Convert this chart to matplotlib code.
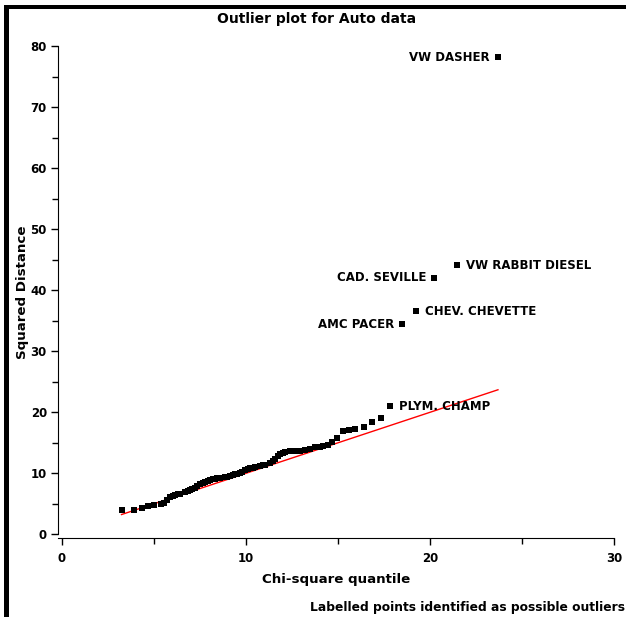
import matplotlib
matplotlib.use("Agg")
import matplotlib.pyplot as plt
from matplotlib.patches import Rectangle
import numpy as np

# chi-square quantiles and squared distances
quantile = [3.25, 3.92, 4.34, 4.70, 5.02, 5.38, 5.55, 5.72, 5.88, 6.02,
            6.15, 6.30, 6.42, 6.70, 6.84, 6.97, 7.10, 7.24, 7.37, 7.50,
            7.65, 7.80, 7.93, 8.06, 8.20, 8.33, 8.46, 8.60, 8.87, 9.00,
            9.15, 9.28, 9.42, 9.55, 9.69, 9.82, 9.96, 10.10, 10.23, 10.37,
            10.50, 10.78, 10.92, 11.05, 11.32, 11.46, 11.60, 11.74, 11.87, 12.00,
            12.14, 12.40, 12.68, 12.96, 13.23, 13.50, 13.77, 14.04, 14.20, 14.45,
            14.70, 14.95, 15.30, 15.60, 15.95, 16.40, 16.86, 17.33]
sq_dist = [4.05, 3.93, 4.30, 4.60, 4.86, 5.00, 5.10, 5.60, 6.05, 6.25,
           6.40, 6.55, 6.67, 6.93, 7.05, 7.20, 7.40, 7.65, 8.00, 8.30,
           8.45, 8.60, 8.80, 8.96, 9.05, 9.13, 9.22, 9.30, 9.40, 9.48,
           9.57, 9.70, 9.84, 9.95, 10.10, 10.30, 10.50, 10.65, 10.80, 10.90,
           11.03, 11.20, 11.30, 11.43, 11.70, 12.00, 12.40, 12.80, 13.10, 13.30,
           13.50, 13.60, 13.60, 13.60, 13.80, 14.05, 14.30, 14.30, 14.50, 14.60,
           15.10, 15.75, 16.90, 17.10, 17.35, 17.65, 18.45, 19.05]

outlier_names = ["PLYM. CHAMP", "AMC PACER", "CHEV. CHEVETTE", "CAD. SEVILLE",
                 "VW RABBIT DIESEL", "VW DASHER"]
outlier_q = [17.85, 18.50, 19.27, 20.25, 21.50, 23.70]
outlier_d = [21.0, 34.4, 36.6, 42.1, 44.1, 78.2]

x_ticks = [0, 10, 20, 30]
y_ticks = [0, 10, 20, 30, 40, 50, 60, 70, 80]

plt.rcParams["font.family"] = "DejaVu Sans"
plt.rcParams["font.weight"] = "bold"

fig = plt.figure(figsize=(6.26, 6.17), dpi=100)
ax = fig.add_axes([0.0927, 0.128, 0.888, 0.797])

all_q = np.array(quantile + outlier_q)
ax.plot([all_q.min(), all_q.max()], [all_q.min(), all_q.max()], color="red", lw=1)
ax.plot(quantile, sq_dist, "s", color="black", ms=3.8, mew=0)
ax.plot(outlier_q, outlier_d, "s", color="black", ms=3.8, mew=0)

# which side each label sits on
sides = {"PLYM. CHAMP": "left", "AMC PACER": "right", "CHEV. CHEVETTE": "left",
         "CAD. SEVILLE": "right", "VW RABBIT DIESEL": "left", "VW DASHER": "right"}
for name, q, d in zip(outlier_names, outlier_q, outlier_d):
    dx = 6 if sides[name] == "left" else -6
    ax.annotate(name, (q, d), xytext=(dx, 0), textcoords="offset points",
                ha=sides[name], va="center", fontsize=8.5, fontweight="bold")

ax.set_xlim(-0.2, 30)
ax.set_ylim(-0.6, 80)
ax.set_xticks(x_ticks)
ax.set_yticks(y_ticks)
ax.set_xticks([5, 15, 25], minor=True)
ax.set_yticks([5, 15, 25, 35, 45, 55, 65, 75], minor=True)
ax.tick_params(which="major", length=5, width=1, labelsize=8.5)
ax.tick_params(which="minor", length=4, width=1)
ax.tick_params(axis="x", pad=5)
ax.tick_params(axis="y", pad=3)
for s in ["top", "right"]:
    ax.spines[s].set_visible(False)
ax.spines["left"].set_bounds(0, 80)
ax.spines["bottom"].set_bounds(-0.2, 30)

ax.set_xlabel("Chi-square quantile", fontsize=9.6, fontweight="bold", labelpad=6)
ax.set_ylabel("Squared Distance", fontsize=9.6, fontweight="bold", labelpad=1)

fig.text(0.506, 0.970, "Outlier plot for Auto data", ha="center", va="center",
         fontsize=10, fontweight="bold")
fig.text(0.998, 0.016, "Labelled points identified as possible outliers",
         ha="right", va="center", fontsize=8.8, fontweight="bold")

# thick black frame along top and left edges
fig.add_artist(Rectangle((4 / 626, 0), 5 / 626, 1 - 5 / 617, transform=fig.transFigure,
                         color="black", lw=0))
fig.add_artist(Rectangle((4 / 626, 1 - 9 / 617), 1, 4 / 617, transform=fig.transFigure,
                         color="black", lw=0))

fig.savefig("out.png", dpi=100)
